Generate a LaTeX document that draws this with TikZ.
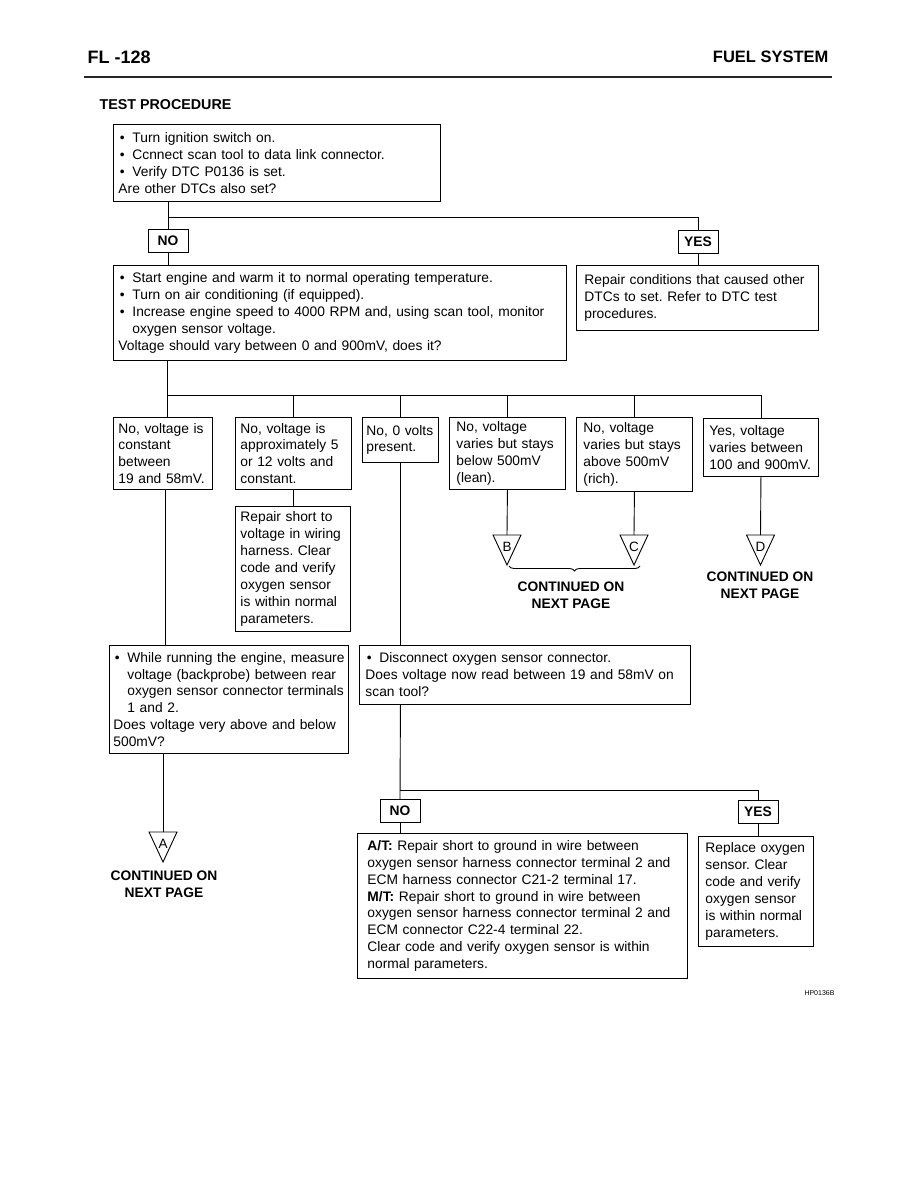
\documentclass[tikz,border=0pt]{standalone}
\usepackage{fontspec}
\setmainfont{Liberation Sans}
\usetikzlibrary{decorations.pathreplacing}
\frenchspacing
\hyphenpenalty=10000
\newcommand\bul{\makebox[14pt][l]{\hspace{1.5pt}\textbullet}}
\newcommand\ind{\hspace*{14pt}}
\newcommand\offpage[4]{%
  \coordinate (#1) at (#2,#3);
  \draw[link] (#1) ++(-14,0) -- ++(28,0) -- ++(-14,30) -- cycle;
  \node[font=\fontsize{13.5}{13.5}\selectfont, inner sep=0pt] (#1l) at (#2,#3+11.5) {#4};}
\tikzset{
  box/.style={draw, line width=0.9pt, anchor=north west, align=left, inner xsep=5pt, inner ysep=0pt, font=\fontsize{13.8}{16.9}\selectfont},
  answer/.style={draw, line width=0.9pt, minimum width=40pt, minimum height=23pt, inner sep=0pt, font=\fontsize{13.8}{16}\selectfont\bfseries},
  cont/.style={align=center, font=\fontsize{13.8}{16.5}\selectfont\bfseries},
  link/.style={line width=0.9pt},
}
\begin{document}
\begin{tikzpicture}[x=1pt, y=-1pt]
  \fill[white] (0,0) rectangle (918,1188);
  \useasboundingbox (0,0) rectangle (918,1188);

  \node[anchor=west, font=\fontsize{18}{18}\selectfont\bfseries] (page) at (84,57) {FL -128};
  \node[anchor=east, font=\fontsize{16.5}{17}\selectfont\bfseries] (section) at (832,57) {FUEL SYSTEM};
  \draw[line width=2.5pt, black!85] (84,77) -- (832,77);
  \node[anchor=west, font=\fontsize{14.3}{15}\selectfont\bfseries] (title) at (96,105) {TEST PROCEDURE};

  \node[box, text width=317pt, minimum height=77pt] (q1) at (113,124) {\bul Turn ignition switch on.\\
    \bul Ccnnect scan tool to data link connector.\\
    \bul Verify DTC P0136 is set.\\
    Are other DTCs also set?};
  \node[answer] (no1) at (168,240.5) {NO};
  \node[answer] (yes1) at (698,242) {YES};
  \node[box, text width=443pt, minimum height=95pt] (q2) at (113,265) {\bul Start engine and warm it to normal operating temperature.\\
    \bul Turn on air conditioning (if equipped).\\
    \bul Increase engine speed to 4000 RPM and, using scan tool, monitor\\
    \ind oxygen sensor voltage.\\
    Voltage should vary between 0 and 900mV, does it?};
  \node[box, inner xsep=8pt, text width=226pt, minimum height=65pt] (oc) at (576,265) {Repair conditions that caused other\\
    DTCs to set. Refer to DTC test\\
    procedures.};

  \node[box, text width=89pt, minimum height=72pt] (a) at (113,417) {No, voltage is\\
    constant\\
    between\\
    19 and 58mV.};
  \node[box, text width=106pt, minimum height=72pt] (b) at (235,417) {No, voltage is\\
    approximately 5\\
    or 12 volts and\\
    constant.};
  \node[box, inner xsep=4pt, text width=68pt, minimum height=45pt] (c) at (362,417) {No, 0 volts\\
    present.};
  \node[box, inner xsep=7pt, text width=102pt, minimum height=72pt] (d) at (449,417) {No, voltage\\
    varies but stays\\
    below 500mV\\
    (lean).};
  \node[box, inner xsep=7pt, text width=102pt, minimum height=74pt] (e) at (576,417) {No, voltage\\
    varies but stays\\
    above 500mV\\
    (rich).};
  \node[box, inner xsep=6pt, text width=103pt, minimum height=58pt] (f) at (703,418) {Yes, voltage\\
    varies between\\
    100 and 900mV.};

  \node[box, text width=105pt, minimum height=125pt] (rs) at (235,506) {Repair short to\\
    voltage in wiring\\
    harness. Clear\\
    code and verify\\
    oxygen sensor\\
    is within normal\\
    parameters.};
  \node[box, inner xsep=4pt, text width=231pt, minimum height=108pt] (wr) at (109,645) {\bul\mbox{While running the engine, measure}\\
    \ind\mbox{voltage (backprobe) between rear}\\
    \ind\mbox{oxygen sensor connector terminals}\\
    \ind 1 and 2.\\
    Does voltage very above and below\\
    500mV?};
  \node[box, inner xsep=6pt, text width=319pt, minimum height=59pt] (dc) at (359,645) {\bul Disconnect oxygen sensor connector.\\
    Does voltage now read between 19 and 58mV on\\
    scan tool?};
  \node[answer] (no2) at (400,811) {NO};
  \node[answer] (yes2) at (758,812) {YES};
  \node[box, inner xsep=10pt, text width=310pt, minimum height=145pt] (at) at (357,833) {\textbf{A/T:} Repair short to ground in wire between\\
    oxygen sensor harness connector terminal 2 and\\
    ECM harness connector C21-2 terminal 17.\\
    \textbf{M/T:} Repair short to ground in wire between\\
    oxygen sensor harness connector terminal 2 and\\
    ECM connector C22-4 terminal 22.\\
    Clear code and verify oxygen sensor is within\\
    normal parameters.};
  \node[box, inner xsep=7pt, text width=101pt, minimum height=110pt] (rp) at (698,836) {Replace oxygen\\
    sensor. Clear\\
    code and verify\\
    oxygen sensor\\
    is within normal\\
    parameters.};

  \offpage{tA}{163}{832}{A}
  \offpage{tB}{507}{535}{B}
  \offpage{tC}{634}{535}{C}
  \offpage{tD}{760.5}{535}{D}
  \node[cont] (contA) at (164,884) {CONTINUED ON\\NEXT PAGE};
  \node[cont] (contBC) at (571,595) {CONTINUED ON\\NEXT PAGE};
  \node[cont] (contD) at (760,585) {CONTINUED ON\\NEXT PAGE};
  \coordinate (bB) at (509,566);
  \coordinate (bC) at (640,566);
  \draw[link, decorate, decoration={brace, mirror, amplitude=5pt}] (bB) -- (bC);

  \coordinate (j1) at (168,217);
  \coordinate (j2) at (167,395);
  \coordinate (j3) at (400,790);
  \coordinate (ja) at (165,489);
  \draw[link] (no1.north |- q1.south) -- (no1.north);
  \draw[link] (j1) -- (j1 -| yes1.north) -- (yes1.north);
  \draw[link] (no1.south) -- (no1.south |- q2.north);
  \draw[link] (yes1.south) -- (yes1.south |- oc.north);
  \draw[link] (j2 |- q2.south) -- (j2 |- a.north);
  \draw[link] (j2) -- (j2 -| f.north);
  \draw[link] (b.north |- j2) -- (b.north);
  \draw[link] (c.north |- j2) -- (c.north);
  \draw[link] (d.north |- j2) -- (d.north);
  \draw[link] (e.north |- j2) -- (e.north);
  \draw[link] (f.north |- j2) -- (f.north);
  \draw[link] (ja |- a.south) -- (ja |- wr.north);
  \draw[link] (b.south) -- (b.south |- rs.north);
  \draw[link] (c.south) -- (c.south |- dc.north);
  \draw[link] (d.south) -- (tB);
  \draw[link] (e.south) -- (tC);
  \draw[link] (f.south) -- (tD);
  \draw[link] (tA |- wr.south) -- (tA);
  \draw[link] (c.south |- dc.south) -- (no2.north);
  \draw[link] (j3) -- (j3 -| yes2.north) -- (yes2.north);
  \draw[link] (no2.south) -- (no2.south |- at.north);
  \draw[link] (yes2.south) -- (yes2.south |- rp.north);

  \node[anchor=east, font=\fontsize{7}{7}\selectfont] (code) at (838,993) {HP0136B};
\end{tikzpicture}
\end{document}
